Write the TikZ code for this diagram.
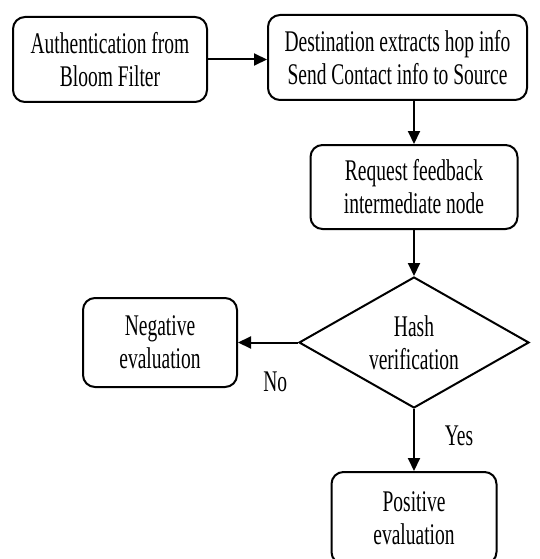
\documentclass[tikz,border=0pt]{standalone}
\usepackage{fontspec}
\setmainfont{Liberation Serif}[FakeStretch=0.65]
\usetikzlibrary{shapes.geometric,arrows.meta}
\begin{document}
\begin{tikzpicture}[x=1pt, y=-1pt, line width=2pt,
  box/.style={draw, rectangle, rounded corners=12pt, align=center, inner sep=0pt, font=\fontsize{30}{33}\selectfont},
  decision/.style={draw, diamond, aspect=1.75, align=center, inner sep=0pt, minimum width=230pt, minimum height=131pt, font=\fontsize{30}{33}\selectfont},
  lbl/.style={font=\fontsize{30}{33}\selectfont, inner sep=0pt},
  arr/.style={-{Triangle[length=13pt,width=12pt]}}]
\useasboundingbox (0,0) rectangle (539,559);

\node[box, minimum width=194pt, minimum height=85pt] (auth) at (110,59.5) {Authentication from\\Bloom Filter};
\node[box, minimum width=259pt, minimum height=85pt] (dest) at (397.5,57.5) {Destination extracts hop info\\Send Contact info to Source};
\node[box, minimum width=207pt, minimum height=84pt] (req) at (414,187) {Request feedback\\intermediate node};
\node[decision] (hash) at (414,342.5) {Hash\\verification};
\node[box, minimum width=154pt, minimum height=89pt] (neg) at (160,342.5) {Negative\\evaluation};
\node[box, minimum width=165pt, minimum height=92pt] (pos) at (414,518) {Positive\\evaluation};

\draw[arr] (auth.east) -- (auth.east -| dest.west);
\draw[arr] (dest.south -| req.north) -- (req.north);
\draw[arr] (req) -- (hash);
\draw[arr] (hash) -- node[lbl, pos=0.38, yshift=-39pt] (no) {No} (neg);
\draw[arr] (hash) -- node[lbl, pos=0.44, xshift=45pt] (yes) {Yes} (pos);
\end{tikzpicture}
\end{document}
